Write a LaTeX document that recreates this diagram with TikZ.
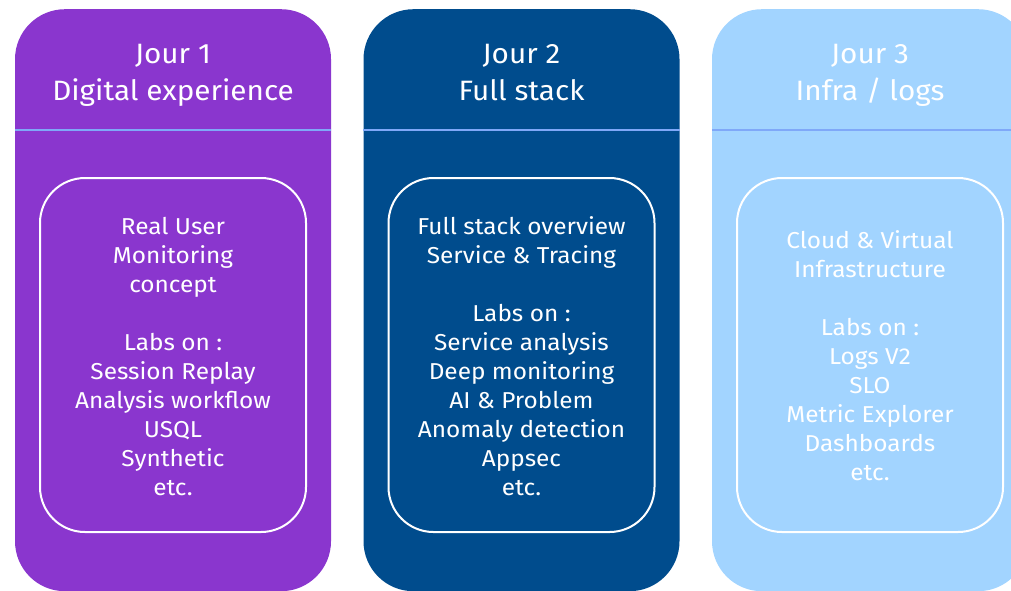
\documentclass[tikz,border=0pt]{standalone}
\usepackage{fontspec}
\setmainfont{Fira Sans}[FakeStretch=1.06]
\usepackage{tikz}

\definecolor{jourviolet}{HTML}{8A36CE}
\definecolor{jourbleu}{HTML}{004C8D}
\definecolor{jourciel}{HTML}{A2D4FF}
\definecolor{filet}{HTML}{7FA8F8}

\begin{document}
\begin{tikzpicture}[x=1pt, y=-1pt,
  jourcol/.style={rectangle, rounded corners=50pt, minimum width=316pt, minimum height=582pt, inner sep=0pt, anchor=north},
  labbox/.style={rectangle, draw=white, line width=2pt, rounded corners=45pt, minimum width=266pt, minimum height=354pt, inner sep=0pt, anchor=north},
  titre/.style={text=white, align=center, anchor=base, font=\fontsize{28}{37}\selectfont},
  contenu/.style={text=white, align=center, anchor=base, font=\fontsize{23}{29}\selectfont}]
\useasboundingbox (0,0) rectangle (1011,590);
% colonnes
\node[jourcol, fill=jourviolet] (col1) at (173,9) {};
\node[jourcol, fill=jourbleu] (col2) at (521.5,9) {};
\node[jourcol, fill=jourciel] (col3) at (870,9) {};
% filets sous les titres
\foreach \c in {col1,col2,col3}
  \draw[filet, line width=2pt] (\c.west |- 0,130) -- (\c.east |- 0,130);
% titres (base = derniere ligne)
\node[titre] (t1) at (173,100) {Jour 1\\Digital experience};
\node[titre] (t2) at (521.5,100) {Jour 2\\Full stack};
\node[titre] (t3) at (870,100) {Jour 3\\Infra / logs};
% cadres
\node[labbox] (in1) at (173,177) {};
\node[labbox] (in2) at (521.5,177) {};
\node[labbox] (in3) at (870,177) {};
% contenus
\node[contenu] (c1) at (173,495) {Real User\\Monitoring\\concept\\[29pt]Labs on :\\Session Replay\\Analysis workflow\\USQL\\Synthetic\\etc.};
\node[contenu] (c2) at (521.5,495) {Full stack overview\\Service \& Tracing\\[29pt]Labs on :\\Service analysis\\Deep monitoring\\AI \& Problem\\Anomaly detection\\Appsec\\etc.};
\node[contenu] (c3) at (870,480) {Cloud \& Virtual\\Infrastructure\\[29pt]Labs on :\\Logs V2\\SLO\\Metric Explorer\\Dashboards\\etc.};
\end{tikzpicture}
\end{document}
